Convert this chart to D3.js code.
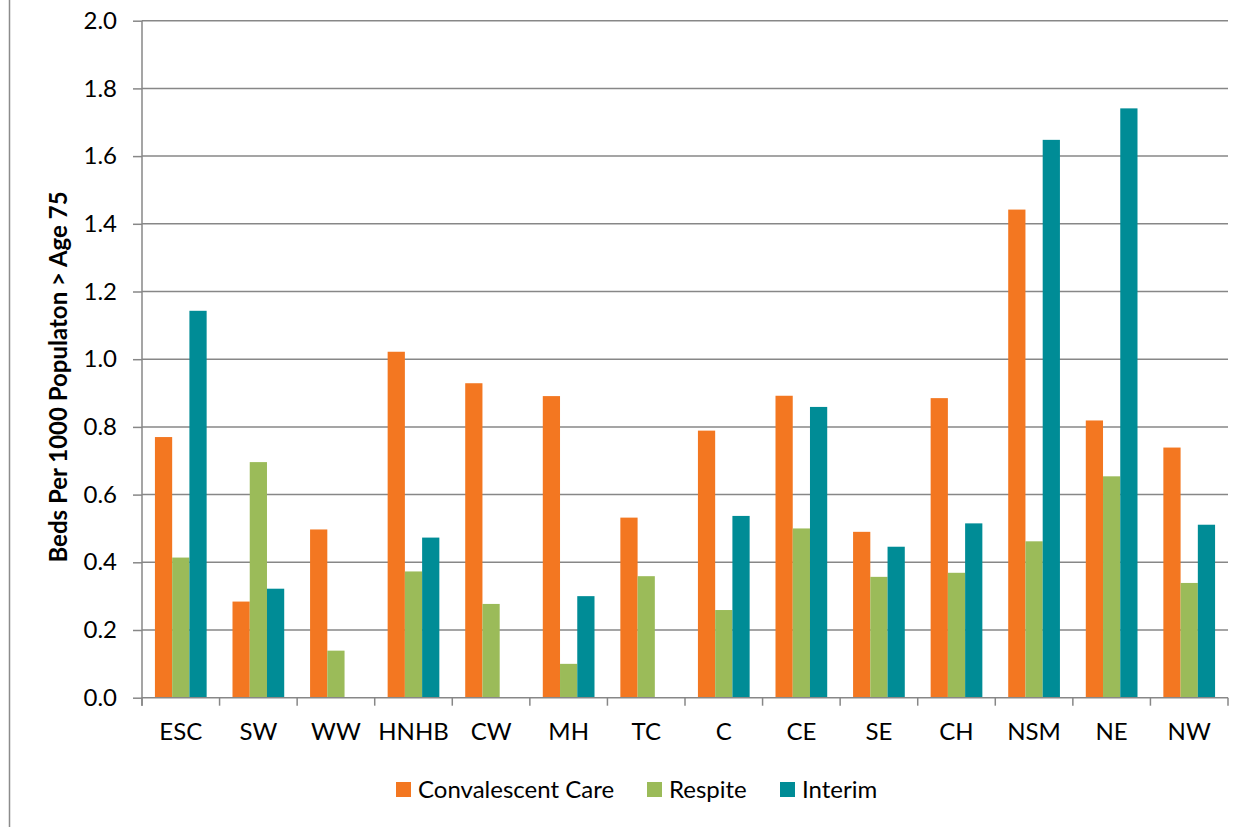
<!DOCTYPE html>
<html><head><meta charset="utf-8">
<script src="https://cdn.jsdelivr.net/npm/d3@7"></script>
<style>body{margin:0;background:#fff}svg{display:block}text{font-family:Lato,"Noto Sans",sans-serif;fill:#000}</style>
</head><body><svg id="c" width="1252" height="827"></svg>
<script>
const categories = ["ESC","SW","WW","HNHB","CW","MH","TC","C","CE","SE","CH","NSM","NE","NW"];
const seriesNames = ["Convalescent Care","Respite","Interim"];
const convalescent = [0.770,0.284,0.497,1.022,0.929,0.891,0.532,0.789,0.892,0.490,0.885,1.442,0.819,0.739];
const respite      = [0.414,0.696,0.139,0.373,0.277,0.100,0.359,0.259,0.500,0.357,0.369,0.462,0.654,0.339];
const interim      = [1.143,0.322,null,0.473,null,0.300,null,0.537,0.859,0.446,0.515,1.648,1.741,0.511];
const yTicks = [0,0.2,0.4,0.6,0.8,1.0,1.2,1.4,1.6,1.8,2.0];
const colors = ["#F37721","#9BBB59","#008C96"];
const yTitle = "Beds Per 1000 Populaton > Age 75";

const svg = d3.select("#c");
const L=142, R=1228, T=20.7, B=697.7;
const values=[convalescent,respite,interim];

// outer frame left edge
svg.append("line").attr("x1",9.5).attr("x2",9.5).attr("y1",0).attr("y2",827).attr("stroke","#8c8c8c").attr("stroke-width",1.5);

const x = d3.scaleBand().domain(categories).range([L,R]).paddingInner(0).paddingOuter(0);
const xs = d3.scaleBand().domain(seriesNames.map((d,i)=>i)).range([0,x.bandwidth()]).paddingInner(0).paddingOuter(0.75);
const y = d3.scaleLinear().domain([0,2]).range([B,T]);

// gridlines
svg.append("g").selectAll("line").data(yTicks.filter(d=>d>0)).join("line")
  .attr("x1",L).attr("x2",R).attr("y1",d=>y(d)).attr("y2",d=>y(d))
  .attr("stroke","#878787").attr("stroke-width",1.5);

// bars
const flat=[];
categories.forEach((c,ci)=>values.forEach((arr,si)=>{ if(arr[ci]!=null) flat.push({c,si,v:arr[ci]}); }));
svg.append("g").selectAll("rect").data(flat).join("rect")
  .attr("x",d=>x(d.c)+xs(d.si)).attr("width",xs.bandwidth())
  .attr("y",d=>y(d.v)).attr("height",d=>B-y(d.v))
  .attr("fill",d=>colors[d.si]);

// y axis
const ya = svg.append("g").attr("transform",`translate(${L},0)`)
  .call(d3.axisLeft(y).tickValues(yTicks).tickFormat(d3.format(".1f")).tickSize(9).tickPadding(16));
ya.select(".domain").attr("d",`M0,${T}V${B+8}`).attr("stroke","#878787").attr("stroke-width",1.5);
ya.selectAll(".tick line").attr("stroke","#878787").attr("stroke-width",1.5);
ya.selectAll(".tick text").attr("font-size",24).attr("font-family","Lato").attr("fill","#000");

// x axis
const xa = svg.append("g").attr("transform",`translate(0,${B})`)
  .call(d3.axisBottom(x).tickSize(0).tickPadding(25));
xa.select(".domain").attr("d",`M${L},0H${R}`).attr("stroke","#878787").attr("stroke-width",1.5);
xa.selectAll(".tick text").attr("font-size",24).attr("font-family","Lato").attr("fill","#000");
const bounds = d3.range(categories.length+1).map(i=>L+i*x.bandwidth());
svg.append("g").selectAll("line").data(bounds).join("line")
  .attr("x1",d=>d).attr("x2",d=>d).attr("y1",B).attr("y2",B+8)
  .attr("stroke","#878787").attr("stroke-width",1.5);

// y title
svg.append("text").attr("transform","translate(67,377) rotate(-90)")
  .attr("text-anchor","middle").attr("font-size",24).attr("font-weight","bold").text(yTitle);

// legend
const legX=[396,647,780];
const lg = svg.append("g").selectAll("g").data(seriesNames).join("g")
  .attr("transform",(d,i)=>`translate(${legX[i]},782)`);
lg.append("rect").attr("width",15).attr("height",15).attr("fill",(d,i)=>colors[i]);
lg.append("text").attr("x",22).attr("y",15.5).attr("font-size",24).text(d=>d);
</script></body></html>
